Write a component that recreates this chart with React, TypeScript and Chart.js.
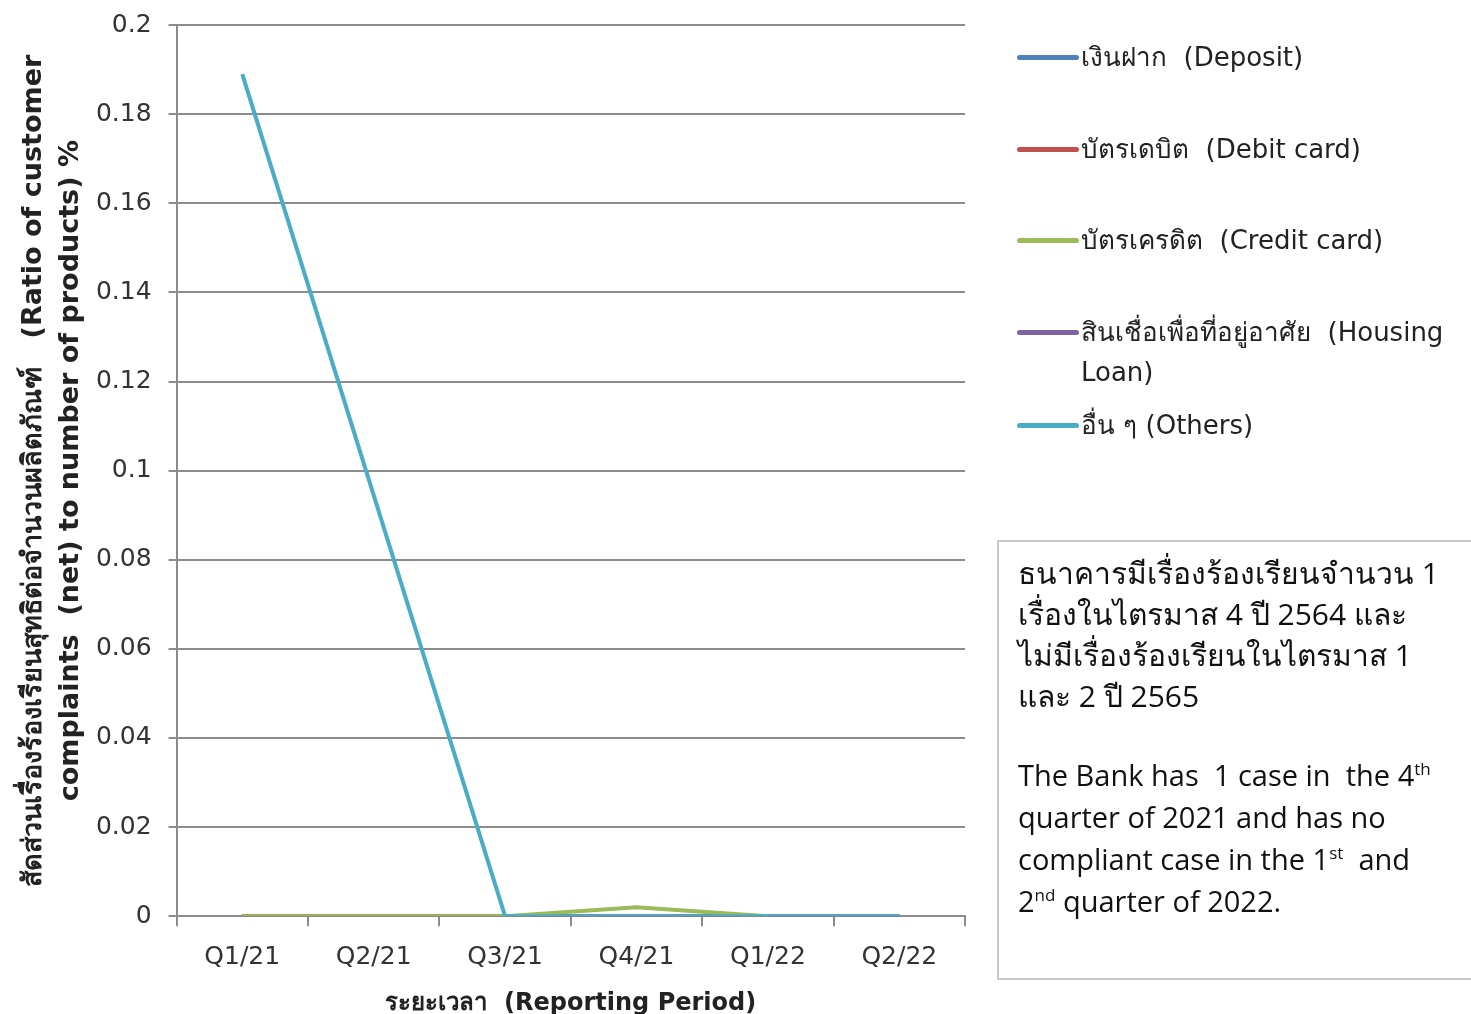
import React, { useEffect, useRef } from "react";
import { Chart, registerables } from "chart.js";

Chart.register(...registerables);

const categories = ["Q1/21", "Q2/21", "Q3/21", "Q4/21", "Q1/22", "Q2/22"];
const seriesNames = [
  "เงินฝาก  (Deposit)",
  "บัตรเดบิต  (Debit card)",
  "บัตรเครดิต  (Credit card)",
  "สินเชื่อเพื่อที่อยู่อาศัย  (Housing Loan)",
  "อื่น ๆ (Others)",
];
const depositValues: (number | null)[] = [0, 0, 0, 0, 0, 0];
const debitValues: (number | null)[] = [0, 0, 0, 0, 0, 0];
const creditValues: (number | null)[] = [0, 0, 0, 0.002, 0, null];
const housingValues: (number | null)[] = [0, 0, 0, 0, 0, 0];
const othersValues: (number | null)[] = [0.189, null, 0, 0, 0, 0];
const yTicks = [0, 0.02, 0.04, 0.06, 0.08, 0.1, 0.12, 0.14, 0.16, 0.18, 0.2];

const colors = ["#4F81BD", "#C0504D", "#9BBB59", "#8064A2", "#4BACC6"];

const yTitle = [
  "สัดส่วนเรื่องร้องเรียนสุทธิต่อจำนวนผลิตภัณฑ์   (Ratio of customer",
  "complaints  (net) to number of products) %",
];
const xTitle = "ระยะเวลา  (Reporting Period)";

const FONT = "'Open Sans', 'Noto Sans', 'DejaVu Sans', sans-serif";
const WIDE = "'DejaVu Sans', 'Noto Sans', sans-serif";

export default function App() {
  const ref = useRef<HTMLCanvasElement | null>(null);

  useEffect(() => {
    if (!ref.current) return;
    const all = [depositValues, debitValues, creditValues, housingValues, othersValues];
    const orders = [4, 3, 1, 2, 0];
    const chart = new Chart(ref.current, {
      type: "line",
      data: {
        labels: categories,
        datasets: all.map((vals, i) => ({
          label: seriesNames[i],
          data: vals,
          borderColor: colors[i],
          backgroundColor: colors[i],
          borderWidth: 4,
          pointRadius: 0,
          tension: 0,
          spanGaps: true,
          order: orders[i],
        })),
      },
      options: {
        animation: false,
        responsive: false,
        maintainAspectRatio: false,
        layout: { padding: { left: 16, right: 506, top: 12, bottom: -4 } },
        plugins: {
          legend: { display: false },
          tooltip: { enabled: false },
        },
        scales: {
          x: {
            offset: true,
            grid: {
              display: true,
              offset: true,
              drawOnChartArea: false,
              drawTicks: true,
              tickLength: 10,
              color: "#8c8c8c",
              lineWidth: 2,
            },
            border: { display: true, color: "#8c8c8c", width: 2 },
            ticks: {
              color: "#333",
              font: { family: WIDE, size: 25 },
              padding: 16,
            },
            title: {
              display: true,
              text: xTitle,
              color: "#222",
              font: { family: WIDE, size: 24, weight: "bold" },
              padding: { top: 1, bottom: 0 },
            },
          },
          y: {
            min: 0,
            max: 0.2,
            afterBuildTicks: (axis: any) => {
              axis.ticks = yTicks.map((v) => ({ value: v }));
            },
            grid: {
              color: "#8c8c8c",
              lineWidth: 2,
              tickLength: 8,
            },
            border: { display: true, color: "#8c8c8c", width: 2 },
            ticks: {
              color: "#333",
              font: { family: WIDE, size: 25, lineHeight: 0.65 },
              padding: 17,
              callback: (v: any) => String(Number(Number(v).toFixed(2))),
            },
            title: {
              display: true,
              text: yTitle,
              color: "#222",
              font: { family: WIDE, size: 27, weight: "bold", lineHeight: 1.35 },
              padding: { top: 0, bottom: -10 },
            },
          },
        },
      },
    });
    return () => chart.destroy();
  }, []);

  const legendTop = [57, 149, 240, 332, 425];
  const sup = { fontSize: 17, verticalAlign: "super", lineHeight: 0 } as React.CSSProperties;

  return (
    <div
      style={{
        position: "fixed",
        left: 0,
        top: 0,
        width: 1471,
        height: 1014,
        background: "#fff",
        overflow: "hidden",
        fontFamily: FONT,
      }}
    >
      <canvas ref={ref} width={1471} height={1014} style={{ position: "absolute", left: 0, top: 0 }} />
      {seriesNames.map((name, i) => (
        <div
          key={name}
          style={{
            position: "absolute",
            left: 1017,
            top: legendTop[i] - 20,
            width: 454,
            display: "flex",
            alignItems: "flex-start",
          }}
        >
          <div
            style={{
              width: 62,
              height: 5,
              borderRadius: 2.5,
              background: colors[i],
              marginTop: 18,
              flex: "0 0 auto",
            }}
          />
          <div
            style={{
              fontFamily: WIDE,
              fontSize: 26,
              lineHeight: "40px",
              color: "#222",
              whiteSpace: "pre-wrap",
              paddingLeft: 2,
              width: 392,
            }}
          >
            {name}
          </div>
        </div>
      ))}
      <div
        style={{
          position: "absolute",
          left: 997,
          top: 540,
          width: 500,
          height: 440,
          border: "2px solid #c8c8c8",
          boxSizing: "border-box",
          padding: "10px 0 0 19px",
          color: "#111",
        }}
      >
        <div style={{ fontSize: 30, lineHeight: "41px", width: 440 }}>
          ธนาคารมีเรื่องร้องเรียนจำนวน 1
          <br />
          เรื่องในไตรมาส 4 ปี 2564 และ
          <br />
          ไม่มีเรื่องร้องเรียนในไตรมาส 1
          <br />
          และ 2 ปี 2565
        </div>
        <div style={{ fontSize: 29, lineHeight: "42px", width: 470, marginTop: 38, whiteSpace: "pre" }}>
          The Bank has  1 case in  the 4<span style={sup}>th</span>
          <br />
          quarter of 2021 and has no
          <br />
          compliant case in the 1<span style={sup}>st</span>  and
          <br />
          2<span style={sup}>nd</span> quarter of 2022.
        </div>
      </div>
    </div>
  );
}
